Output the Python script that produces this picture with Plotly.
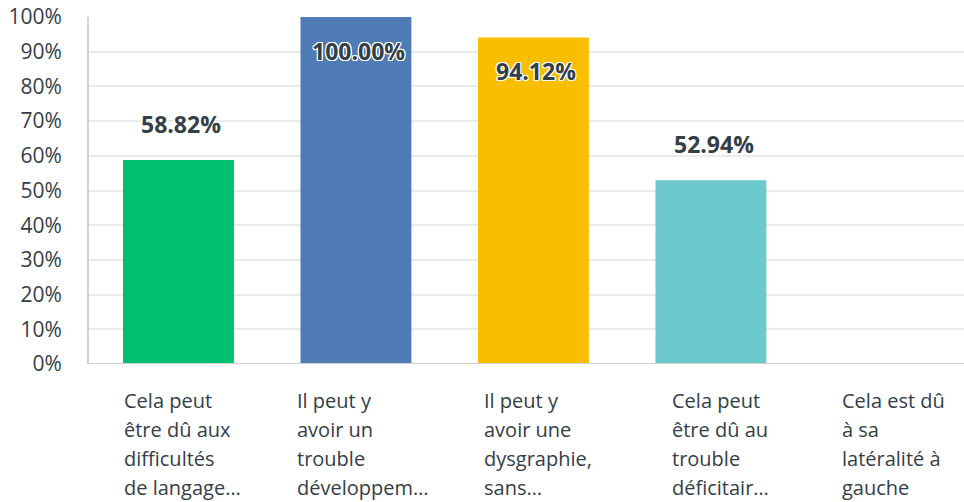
import plotly.graph_objects as go

categories = [
    ["Cela peut", "être dû aux", "difficultés", "de langage…"],
    ["Il peut y", "avoir un", "trouble", "développem…"],
    ["Il peut y", "avoir une", "dysgraphie,", "sans…"],
    ["Cela peut", "être dû au", "trouble", "déficitair…"],
    ["Cela est dû", "à sa", "latéralité à", "gauche"],
]
values = [58.82, 100.00, 94.12, 52.94, 0.0]
value_labels = ["58.82%", "100.00%", "94.12%", "52.94%", ""]
y_ticks = [0, 10, 20, 30, 40, 50, 60, 70, 80, 90, 100]
y_tick_labels = [f"{t}%" for t in y_ticks]

colors = ["#00BF6F", "#507CB6", "#F9BE00", "#6BC8CD", "#DBDBDB"]
TEXT = "#333E48"
FONT = "Open Sans"
CAT_SIZE = 20
LINE_GAP = 29
# left edge of each (left-aligned) category label block, px from bar centre
label_left_offset = [-56, -61, -51, -41, -48]

xs = list(range(len(categories)))

fig = go.Figure()
fig.add_trace(go.Bar(
    x=xs, y=values, marker=dict(color=colors, line=dict(width=0)),
    width=0.625, hoverinfo="skip",
))

white_outline = ", ".join(f"{dx}px {dy}px 0 #fff" for dx in (-1, 0, 1) for dy in (-1, 0, 1) if dx or dy)
for x, v, lab in zip(xs, values, value_labels):
    if not lab:
        continue
    inside = v >= 90
    fig.add_annotation(
        x=x, y=v, xref="x", yref="y", text=f"<b>{lab}</b>", showarrow=False,
        yanchor="middle", yshift=-34 if inside else 36, xshift=3,
        font=dict(family=FONT, size=23, color=TEXT, shadow=white_outline),
    )

for x, lines, off in zip(xs, categories, label_left_offset):
    for k, ln in enumerate(lines):
        fig.add_annotation(
            x=x, y=0, xref="x", yref="paper", text=ln, showarrow=False,
            xanchor="left", yanchor="middle", align="left",
            yshift=-36 - k * LINE_GAP, xshift=off,
            font=dict(family=FONT, size=CAT_SIZE, color=TEXT),
        )

fig.update_layout(
    width=964, height=502,
    margin=dict(l=89, r=0, t=17, b=138, pad=0, autoexpand=False),
    paper_bgcolor="white", plot_bgcolor="white",
    showlegend=False,
    font=dict(family=FONT, color=TEXT),
)
fig.update_xaxes(
    range=[-0.504, 4.426], showticklabels=False, showgrid=False,
    zeroline=False, showline=False, fixedrange=True, automargin=False,
)
fig.update_yaxes(
    range=[0, 100], tickvals=y_ticks, ticktext=y_tick_labels,
    showgrid=True, gridcolor="#EBEBEB", gridwidth=2,
    showline=True, linecolor="#D0D0D0", linewidth=2,
    zeroline=False, ticks="", ticklabelstandoff=21, automargin=False,
    tickfont=dict(family=FONT, size=21, color=TEXT),
)
fig.add_shape(type="line", xref="paper", yref="y", x0=0, x1=1, y0=0, y1=0,
              line=dict(color="#D0D0D0", width=2), layer="above")

fig.write_html(
    "out.html",
    config={"displayModeBar": False},
    post_script="document.body.style.margin='0';document.body.style.overflow='hidden';",
)
